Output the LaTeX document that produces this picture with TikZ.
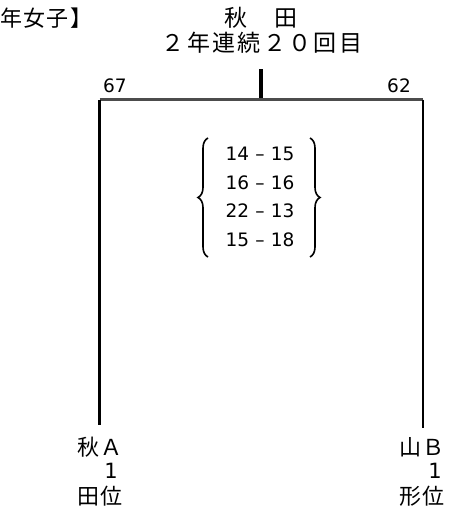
\documentclass[tikz,border=0pt]{standalone}
\usepackage{fontspec}
\setmainfont{Noto Sans CJK JP}
\newfontfamily\digitfont{DejaVu Sans}
\usetikzlibrary{decorations.pathreplacing}
\begin{document}
\begin{tikzpicture}[x=1pt,y=-1pt,
  big/.style={inner sep=0pt,font=\fontsize{23}{25}\selectfont\addfontfeature{LetterSpace=10}},
  mid/.style={inner sep=0pt,font=\fontsize{22}{24}\selectfont\addfontfeature{LetterSpace=6}},
  num/.style={inner sep=0pt,font=\digitfont\fontsize{18.5}{20}\selectfont},
  scorebox/.style={inner sep=0pt,align=center,font=\digitfont\fontsize{18.5}{28.5}\selectfont},
  win/.style={line width=3.2pt},
  lose/.style={line width=1.8pt},
  hline/.style={line width=3pt,black!70},
  bracestyle/.style={line width=1.6pt,decorate,decoration={brace,amplitude=10pt}}]
\useasboundingbox (0,0) rectangle (453,519);
\node[mid,anchor=west] (hdr) at (0,18) {年女子】};
\node[big] (pref) at (261,18) {秋　田};
\node[big] (rec) at (262,43) {２年連続２０回目};
\coordinate (top) at (261,69);
\coordinate (join) at (261,99);
\coordinate (L) at (99.5,99.5);
\coordinate (R) at (423,99.5);
\coordinate (Lb) at (99.5,425);
\coordinate (Rb) at (423,428);
\draw[win] (top) -- (join);
\draw[hline] (L) -- (R);
\draw[win] (L) -- (Lb);
\draw[lose] (R) -- (Rb);
\node[num] (s67) at (115,86) {67};
\node[num] (s62) at (399,86) {62};
\node[scorebox] (sc) at (260,197) {14\,\,–\,\,15\\16\,\,–\,\,16\\22\,\,–\,\,13\\15\,\,–\,\,18};
\coordinate (bl1) at (208,257);
\coordinate (bl2) at (208,138);
\coordinate (br1) at (310,138);
\coordinate (br2) at (310,257);
\draw[bracestyle] (bl1) -- (bl2);
\draw[bracestyle] (br1) -- (br2);
\node[mid] (teamA) at (100,447) {秋Ａ};
\node[num,font=\digitfont\fontsize{21}{22}\selectfont] (oneA) at (111,471) {1};
\node[mid] (rankA) at (100,496) {田位};
\node[mid] (teamB) at (422,447) {山Ｂ};
\node[num,font=\digitfont\fontsize{21}{22}\selectfont] (oneB) at (435,471) {1};
\node[mid] (rankB) at (422,496) {形位};
\end{tikzpicture}
\end{document}
